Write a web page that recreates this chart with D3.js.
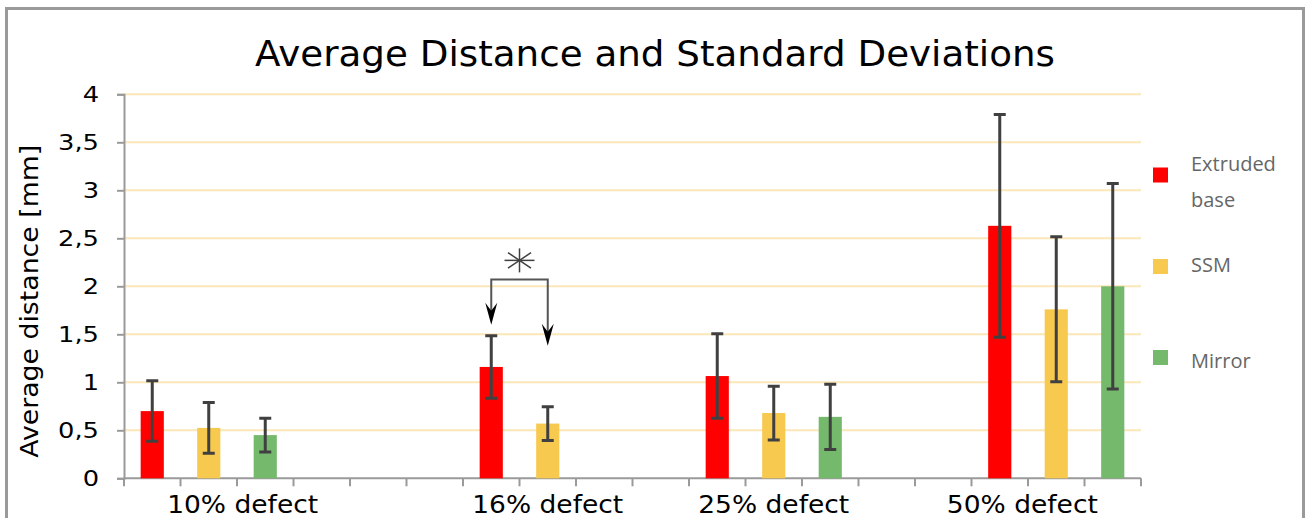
<!DOCTYPE html>
<html>
<head>
<meta charset="utf-8">
<script src="https://cdn.jsdelivr.net/npm/d3@7"></script>
<style>
  body { margin: 0; background: #fff; }
  svg { display: block; }
  .tick text { font-family: "DejaVu Sans", Verdana, sans-serif; }
</style>
</head>
<body>
<svg id="chart" width="1311" height="518"></svg>
<script>
const groups = ["10% defect", "16% defect", "25% defect", "50% defect"]
const series = ["Extruded base", "SSM", "Mirror"]
const colors = ["#ff0000", "#f7c94f", "#75b96c"]

// mean per group, one array per series (null = no bar)
const extrudedMean = [0.70, 1.16, 1.065, 2.63]
const ssmMean      = [0.525, 0.57, 0.68, 1.76]
const mirrorMean   = [0.45, null, 0.64, 2.00]

const extrudedSd = [0.315, 0.325, 0.44, 1.16]
const ssmSd      = [0.265, 0.175, 0.28, 0.755]
const mirrorSd   = [0.175, null, 0.34, 1.07]

const yTicks = [0, 0.5, 1, 1.5, 2, 2.5, 3, 3.5, 4]

// significance marker between 16% extruded and SSM
const sig = { group: 1, from: 0, to: 1, bracket: 2.07, star: 2.27, tips: [1.6, 1.38] }

const means = [extrudedMean, ssmMean, mirrorMean]
const sds = [extrudedSd, ssmSd, mirrorSd]

// excel layout: 18 category slots, groups start at these slots
const nSlots = 18
const groupStart = [0, 6, 10, 15]
const labelAt = [2.1, 7.5, 11.5, 15.9]

const svg = d3.select("#chart")
const plotL = 124, plotR = 1141, plotT = 94.3, plotB = 478.3

const x = d3.scaleBand().domain(d3.range(nSlots)).range([plotL, plotR])
const xs = d3.scaleLinear().domain([0, nSlots]).range([plotL, plotR])
const y = d3.scaleLinear().domain([0, 4]).range([plotB, plotT])
const bw = x.bandwidth()
const barW = bw * 0.41

// the source font (Verdana) runs wider than DejaVu, stretch a bit
const widen = (sel, k) => sel.each(function() {
  const w = this.getComputedTextLength()
  d3.select(this).attr("textLength", w * k).attr("lengthAdjust", "spacingAndGlyphs")
})

// outer frame
svg.append("path")
  .attr("d", `M6.5,530V8.5H1303.5V530`)
  .attr("fill", "none").attr("stroke", "#9a9a9a").attr("stroke-width", 3)

svg.append("text")
  .attr("x", 655).attr("y", 66)
  .attr("text-anchor", "middle")
  .style("font", "35px 'DejaVu Sans', Verdana, sans-serif")
  .attr("fill", "#000")
  .attr("textLength", 800).attr("lengthAdjust", "spacingAndGlyphs")
  .text("Average Distance and Standard Deviations")

// gridlines
svg.append("g").selectAll("line")
  .data(yTicks.filter(d => d > 0)).enter()
  .append("line")
    .attr("x1", plotL).attr("x2", plotR)
    .attr("y1", d => y(d)).attr("y2", d => y(d))
    .attr("stroke", "#fbe7b8").attr("stroke-width", 2)

// y axis
const yAxis = svg.append("g")
  .attr("transform", `translate(${plotL},0)`)
  .call(d3.axisLeft(y).tickValues(yTicks).tickSize(7).tickPadding(18)
    .tickFormat(d => String(d).replace(".", ",")))
yAxis.selectAll("text").style("font-size", "22px").attr("fill", "#000")
  .call(widen, 1.17)
yAxis.selectAll("line, path").attr("stroke", "#9a9a9a").attr("stroke-width", 2)

svg.append("text")
  .attr("transform", `translate(38,${(plotT + plotB) / 2 + 15})rotate(-90)`)
  .attr("text-anchor", "middle")
  .style("font", "25px 'DejaVu Sans', Verdana, sans-serif")
  .attr("textLength", 313).attr("lengthAdjust", "spacingAndGlyphs")
  .text("Average distance [mm]")

// x axis
const xAxis = svg.append("g")
  .attr("transform", `translate(0,${plotB})`)
xAxis.append("line").attr("x1", plotL).attr("x2", plotR)
  .attr("stroke", "#9a9a9a").attr("stroke-width", 2)
xAxis.selectAll(".xt")
  .data(d3.range(nSlots + 1)).enter()
  .append("line")
    .attr("x1", d => xs(d)).attr("x2", d => xs(d))
    .attr("y1", 0).attr("y2", 8)
    .attr("stroke", "#9a9a9a").attr("stroke-width", 2)
xAxis.selectAll(".xl")
  .data(groups).enter()
  .append("text")
    .attr("x", (d, i) => xs(labelAt[i]))
    .attr("y", 35)
    .attr("text-anchor", "middle")
    .style("font", "25px 'DejaVu Sans', Verdana, sans-serif")
    .attr("textLength", 151).attr("lengthAdjust", "spacingAndGlyphs")
    .text(d => d)

// bars + error bars
const barData = []
series.forEach((s, si) => {
  groups.forEach((g, gi) => {
    if (means[si][gi] == null) return
    barData.push({ s: si, g: gi, slot: groupStart[gi] + si, m: means[si][gi], sd: sds[si][gi] })
  })
})

const bars = svg.append("g").selectAll("g")
  .data(barData).enter()
  .append("g")

bars.append("rect")
  .attr("x", d => x(d.slot) + (bw - barW) / 2)
  .attr("width", barW)
  .attr("y", d => y(d.m))
  .attr("height", d => y(0) - y(d.m))
  .attr("fill", d => colors[d.s])

const cx = d => x(d.slot) + bw / 2
bars.append("path")
  .attr("d", d => {
    const t = y(d.m + d.sd), b = y(d.m - d.sd)
    return `M${cx(d)},${t}V${b}M${cx(d) - 6},${t}H${cx(d) + 6}M${cx(d) - 6},${b}H${cx(d) + 6}`
  })
  .attr("fill", "none").attr("stroke", "#404040").attr("stroke-width", 3)

// legend
const legend = svg.append("g")
const legendItems = [
  { lines: ["Extruded", "base"], sq: 175, base: 171 },
  { lines: ["SSM"], sq: 266.5, base: 272 },
  { lines: ["Mirror"], sq: 357.5, base: 368 }
]
legendItems.forEach((it, i) => {
  legend.append("rect")
    .attr("x", 1153).attr("y", it.sq - 7.5)
    .attr("width", 15).attr("height", 15)
    .attr("fill", colors[i])
  it.lines.forEach((l, j) => {
    legend.append("text")
      .attr("x", 1191).attr("y", it.base + j * 36)
      .style("font", "20px 'Open Sans', 'Noto Sans', sans-serif")
      .attr("fill", "#666")
      .text(l)
  })
})

// significance bracket
const sx1 = x(groupStart[sig.group] + sig.from) + bw / 2
const sx2 = x(groupStart[sig.group] + sig.to) + bw / 2
const ann = svg.append("g")
ann.append("path")
  .attr("d", `M${sx1},${y(sig.tips[0]) - 10}V${y(sig.bracket)}H${sx2}V${y(sig.tips[1]) - 10}`)
  .attr("fill", "none").attr("stroke", "#555").attr("stroke-width", 2)
;[[sx1, sig.tips[0]], [sx2, sig.tips[1]]].forEach(([ax, v]) => {
  ann.append("path")
    .attr("transform", `translate(${ax},${y(v)})`)
    .attr("d", "M0,0L-6,-22L0,-14L6,-22Z")
    .attr("fill", "#000")
})
const starX = (sx1 + sx2) / 2, starY = y(sig.star)
;[0, 40, 90, 140].forEach(a => {
  const r = a * Math.PI / 180
  const dx = 15 * Math.cos(r), dy = 12 * Math.sin(r)
  ann.append("line")
    .attr("x1", starX - dx).attr("x2", starX + dx)
    .attr("y1", starY - dy).attr("y2", starY + dy)
    .attr("stroke", "#404040").attr("stroke-width", 1.5)
})
</script>
</body>
</html>
